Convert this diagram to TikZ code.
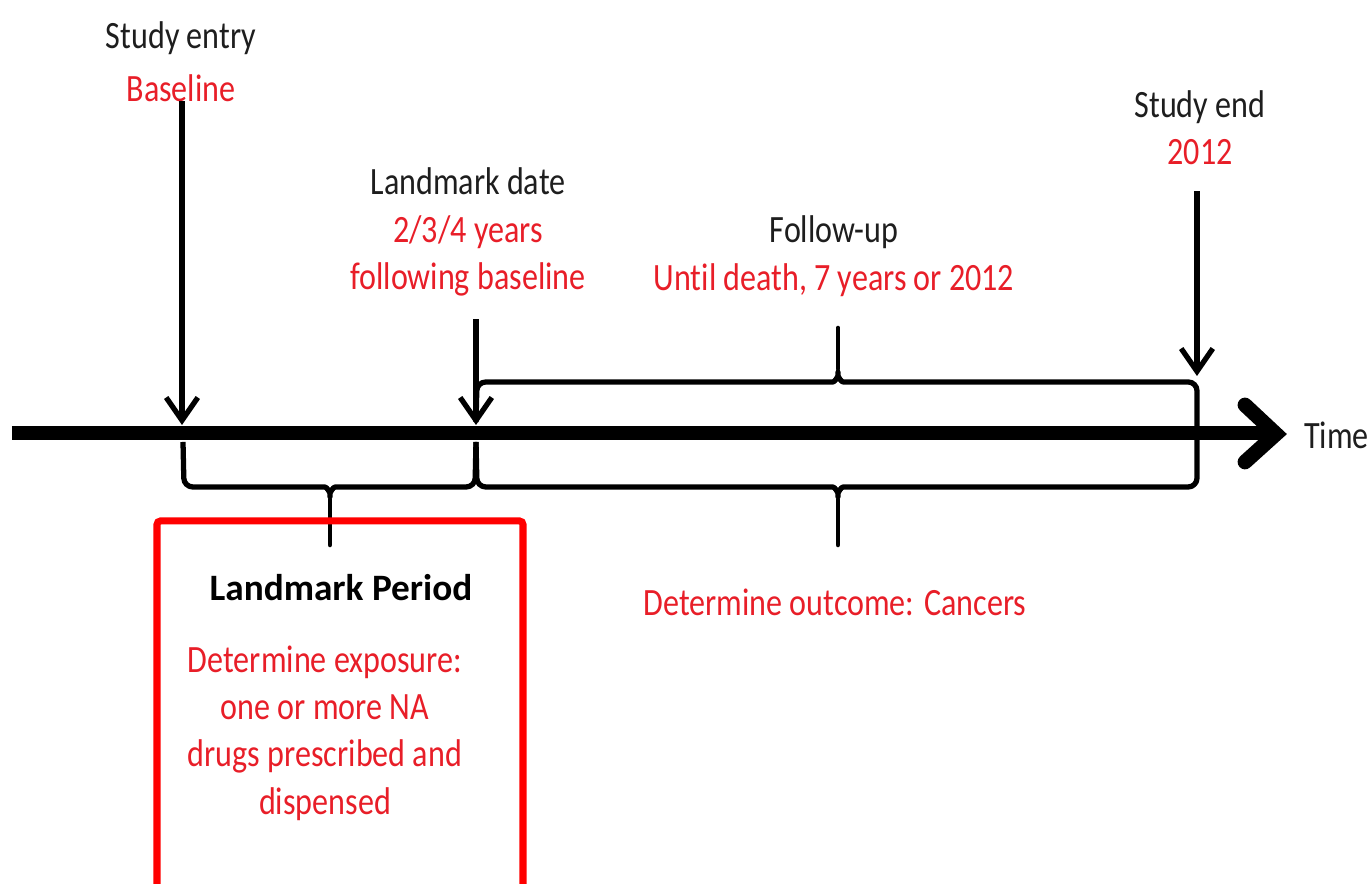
\documentclass[tikz,border=0pt]{standalone}
\usepackage{fontspec}
\setmainfont[FakeStretch=0.83, Ligatures=NoCommon]{Carlito}
\newfontfamily\titlefont[Ligatures=NoCommon]{Carlito}
\definecolor{txtred}{RGB}{232,30,40}
\definecolor{boxred}{RGB}{255,0,0}
\definecolor{ink}{RGB}{30,30,30}
\usetikzlibrary{arrows.meta}

\begin{document}
\begin{tikzpicture}[
  lbl/.style={font=\fontsize{11}{13.5}\selectfont, text=ink, align=center, inner sep=1pt},
  arr/.style={line width=1.5pt, -{Straight Barb[length=6.5pt,width=9pt]}},
  brc/.style={line width=1.5pt, line join=round, rounded corners=2.5pt},
  spike/.style={line width=1.3pt, line cap=round}
]
  \useasboundingbox (0,0) rectangle (13.70,8.84);

  % time axis
  \draw[line width=4pt] (0.12,4.51) -- (12.70,4.51);
  \draw[line width=4.2pt, line cap=round, line join=miter]
    (12.45,4.79) -- (12.76,4.50) -- (12.45,4.22);
  \node[lbl, anchor=west] (time) at (13.00,4.49) {Time};

  % points on the axis
  \coordinate (tA) at (1.82,4.59);
  \coordinate (tB) at (4.76,4.59);
  \coordinate (tC) at (11.97,5.08);

  % labels above the axis
  \node[lbl] (entry) at (1.81,8.22) {Study entry\\[1.5pt]\textcolor{txtred}{Baseline}};
  \node[lbl] (lmk) at (4.68,6.52) {Landmark date\\\textcolor{txtred}{2/3/4 years}\\\textcolor{txtred}{following baseline}};
  \node[lbl] (fu) at (8.34,6.28) {Follow-up\\\textcolor{txtred}{Until death, 7 years or 2012}};
  \node[lbl] (end) at (12.00,7.56) {Study end\\\textcolor{txtred}{2012}};

  \draw[arr] (entry.south -| tA) ++(0,0.05) -- (tA);
  \draw[arr] (lmk.south -| tB) ++(0,-0.19) -- (tB);
  \draw[arr] (end.south -| tC) ++(0,-0.22) -- (tC);

  % follow-up braces
  \draw[brc] (4.76,4.62) -- (4.77,5.02) -- (8.24,5.02)
    .. controls (8.35,5.02) and (8.38,5.08) .. (8.38,5.17)
    .. controls (8.38,5.08) and (8.41,5.02) .. (8.52,5.02)
    -- (11.97,5.02) -- (11.97,3.97) -- (8.52,3.97)
    .. controls (8.41,3.97) and (8.38,3.91) .. (8.38,3.82)
    .. controls (8.38,3.91) and (8.35,3.97) .. (8.24,3.97)
    -- (4.77,3.97) -- (4.76,4.42);
  \draw[spike] (8.38,5.15) -- (8.38,5.56);
  \draw[spike] (8.38,3.84) -- (8.38,3.39);

  % landmark period brace
  \draw[brc] (1.83,4.42) -- (1.84,3.97) -- (3.16,3.97)
    .. controls (3.27,3.97) and (3.30,3.91) .. (3.30,3.82)
    .. controls (3.30,3.91) and (3.33,3.97) .. (3.44,3.97)
    -- (4.75,3.97) -- (4.76,4.42);
  \draw[spike] (3.30,3.84) -- (3.30,3.39);

  % landmark period box
  \draw[boxred, line width=2pt, rounded corners=1pt] (1.57,-0.30) rectangle (5.23,3.63);
  \node[font=\titlefont\bfseries\fontsize{10.6}{13}\selectfont, inner sep=1pt] (period) at (3.41,2.96) {Landmark Period};
  \node[lbl, text=txtred] (expo) at (3.25,1.51) {Determine exposure:\\one or more NA\\drugs prescribed and\\dispensed};

  \node[lbl, text=txtred] (outc) at (8.35,2.82) {Determine outcome: Cancers};
\end{tikzpicture}
\end{document}
